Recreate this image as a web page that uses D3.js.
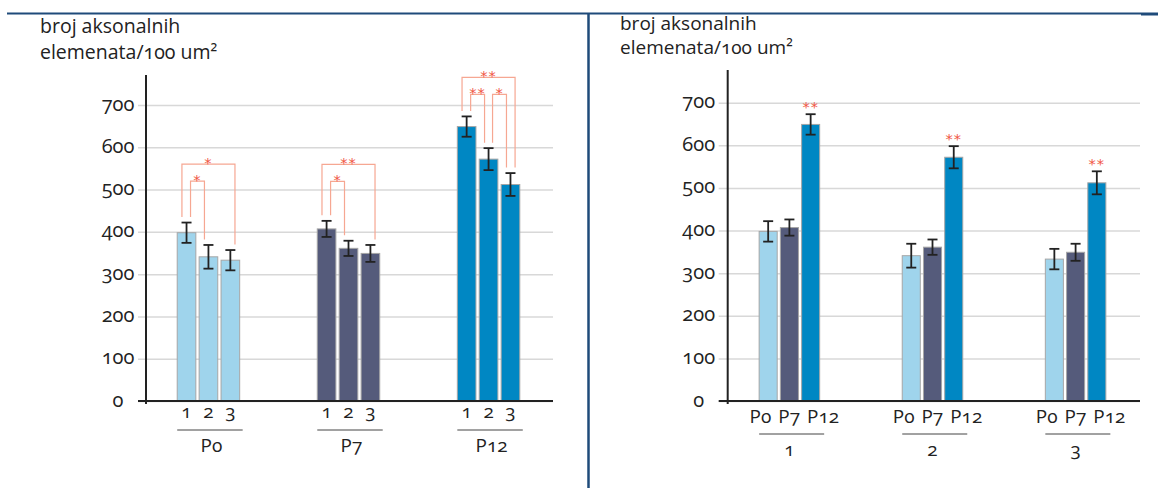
<!DOCTYPE html>
<html><head><meta charset="utf-8">
<script src="https://cdn.jsdelivr.net/npm/d3@7"></script>
<style>
body{margin:0;background:#fff;}
svg text{font-family:"Open Sans",sans-serif;font-variant-numeric:oldstyle-nums;font-feature-settings:"onum" 1;}
svg text.star{font-family:"DejaVu Sans",sans-serif;}
</style></head><body>
<svg id="c" width="1158" height="488"></svg>
<script>
// ---------- data ----------
const ages = ["P0", "P7", "P12"];
const samples = ["1", "2", "3"];
const yTickValues = [0, 100, 200, 300, 400, 500, 600, 700];
const meanP0 = [398, 341, 333];
const meanP7 = [407, 361, 349];
const meanP12 = [649, 572, 512];
const semP0 = [24, 28, 24];
const semP7 = [19, 18, 20];
const semP12 = [24, 26, 27];
const titleLines = ["broj aksonalnih", "elemenata/100 um²"];
// significance within each age group (left chart): sample index pairs
const sigAge = ["P0", "P0", "P7", "P7", "P12", "P12", "P12"];
const sigFrom = [0, 0, 0, 0, 0, 0, 1];
const sigTo = [2, 1, 2, 1, 2, 1, 2];
const sigLabel = ["*", "*", "**", "*", "**", "**", "*"];
const sigTier = [1, 0, 1, 0, 1, 0, 0];
// significance marks on the right chart (P12 bar of each sample)
const starSample = ["1", "2", "3"];
const starAge = ["P12", "P12", "P12"];
const starLabel = ["**", "**", "**"];

const meanBy = {P0: meanP0, P7: meanP7, P12: meanP12};
const semBy = {P0: semP0, P7: semP7, P12: semP12};
const rows = [];
ages.forEach(a => samples.forEach((s, j) => rows.push({age: a, sample: s, mean: meanBy[a][j], sem: semBy[a][j]})));

// ---------- style ----------
const colors = {P0: "#9fd4ec", P7: "#555b7b", P12: "#0087c3"};
const frame = "#1f4b7a";
const ink = "#222";
const starColor = "#f05644";
const bracketColor = "#f6a792";

const svg = d3.select("#c");

// frame lines
svg.append("line").attr("x1", 7).attr("x2", 1141).attr("y1", 13.5).attr("y2", 13.5).attr("stroke", frame).attr("stroke-width", 2);
svg.append("line").attr("x1", 1141).attr("x2", 1158).attr("y1", 14).attr("y2", 14).attr("stroke", frame).attr("stroke-width", 3);
svg.append("line").attr("x1", 588.5).attr("x2", 588.5).attr("y1", 13).attr("y2", 488).attr("stroke", frame).attr("stroke-width", 2.5);

function drawPanel(o) {
  const g = svg.append("g");
  const y = d3.scaleLinear().domain([0, 700]).range([o.zeroY, o.topY]);
  const x0 = d3.scaleBand().domain(o.outerDomain).range(o.xRange).paddingInner(o.padIn).paddingOuter(o.padOut);
  const x1 = d3.scaleBand().domain(o.innerDomain).range([0, x0.bandwidth()]).paddingInner(0.15);
  const bx = d => x0(d[o.outerKey]) + x1(d[o.innerKey]);
  const cx = d => bx(d) + x1.bandwidth() / 2;

  // title
  g.selectAll("text.title").data(titleLines).join("text").attr("class", "title")
    .attr("x", o.titleX).attr("y", (d, i) => o.titleY + i * o.titleGap)
    .attr("font-size", o.titleSize).attr("fill", ink).text(d => d);

  // axis with gridlines
  const ax = g.append("g").attr("transform", `translate(${o.axisX},0)`)
    .call(d3.axisLeft(y).tickValues(yTickValues).tickSize(-(o.gridX1 - o.axisX)).tickSizeOuter(0).tickFormat(d3.format("d")));
  ax.select(".domain").remove();
  ax.selectAll(".tick line").attr("x1", -o.tickExt).attr("stroke", "#d8d8d8").attr("stroke-width", 1.5);
  ax.selectAll(".tick text").attr("x", o.labelDx).attr("dy", null).attr("y", 5)
    .attr("text-anchor", "middle").attr("font-size", 20).attr("fill", ink).attr("font-family", null);

  // bars
  g.selectAll("rect.bar").data(rows).join("rect").attr("class", "bar")
    .attr("x", bx).attr("width", x1.bandwidth())
    .attr("y", d => y(d.mean)).attr("height", d => y(0) - y(d.mean))
    .attr("fill", d => colors[d.age]).attr("stroke", "#a6a6a6").attr("stroke-width", 1);

  // error bars
  const eb = g.selectAll("g.err").data(rows).join("g").attr("class", "err")
    .attr("stroke", ink).attr("stroke-width", 1.8);
  eb.append("line").attr("x1", cx).attr("x2", cx).attr("y1", d => y(d.mean + d.sem)).attr("y2", d => y(d.mean - d.sem));
  eb.append("line").attr("x1", d => cx(d) - 5).attr("x2", d => cx(d) + 5).attr("y1", d => y(d.mean + d.sem)).attr("y2", d => y(d.mean + d.sem));
  eb.append("line").attr("x1", d => cx(d) - 5).attr("x2", d => cx(d) + 5).attr("y1", d => y(d.mean - d.sem)).attr("y2", d => y(d.mean - d.sem));

  // zero line and vertical axis
  g.append("line").attr("x1", o.axisX - o.tickExt).attr("x2", o.gridX1).attr("y1", y(0)).attr("y2", y(0)).attr("stroke", ink).attr("stroke-width", 2);
  g.append("line").attr("x1", o.axisX).attr("x2", o.axisX).attr("y1", o.axisTop).attr("y2", y(0) + 3).attr("stroke", ink).attr("stroke-width", 2);

  // category labels
  if (o.innerLabelMode === "each") {
    g.selectAll("text.il").data(rows).join("text").attr("class", "il")
      .attr("x", cx).attr("y", o.innerLabelY).attr("text-anchor", "middle")
      .attr("font-size", o.innerLabelSize).attr("fill", ink).text(d => d[o.innerKey]);
  } else {
    g.selectAll("text.il").data(o.outerDomain).join("text").attr("class", "il")
      .attr("x", d => x0(d) + x0.bandwidth() / 2 + o.innerLabelShift).attr("y", o.innerLabelY)
      .attr("text-anchor", "middle").attr("font-size", o.innerLabelSize).attr("fill", ink)
      .attr("word-spacing", o.wordSpacing)
      .text(o.innerDomain.join(" "));
  }
  g.selectAll("line.gl").data(o.outerDomain).join("line").attr("class", "gl")
    .attr("x1", d => x0(d)).attr("x2", d => x0(d) + x0.bandwidth() + o.lineExt)
    .attr("y1", o.groupLineY).attr("y2", o.groupLineY).attr("stroke", "#444").attr("stroke-width", 1);
  g.selectAll("text.ol").data(o.outerDomain).join("text").attr("class", "ol")
    .attr("x", d => x0(d) + x0.bandwidth() / 2 + o.outerLabelShift).attr("y", o.outerLabelY)
    .attr("text-anchor", "middle").attr("font-size", o.outerLabelSize).attr("fill", ink).text(d => d);

  return {g, x0, x1, y, cx};
}

// ---------- left panel: grouped by age ----------
const L = drawPanel({
  outerDomain: ages, innerDomain: samples, outerKey: "age", innerKey: "sample",
  xRange: [145, 552], padIn: 0.554, padOut: 0.23,
  zeroY: 401, topY: 105, axisX: 146, axisTop: 75, gridX1: 553, tickExt: 8, labelDx: -28,
  titleX: 40, titleY: 33, titleGap: 26, titleSize: 19.5,
  innerLabelMode: "each", innerLabelY: 418, innerLabelSize: 19,
  groupLineY: 430, lineExt: 3, outerLabelY: 452, outerLabelSize: 19, outerLabelShift: 3
});

// brackets
const capY = (age, idx) => {
  const r = rows.find(d => d.age === age && d.sample === samples[idx]);
  return L.y(r.mean + r.sem);
};
const barC = (age, idx) => L.cx(rows.find(d => d.age === age && d.sample === samples[idx]));
const innerGap = {P0: 41.5, P7: 39.5, P12: 22};
sigAge.forEach((age, k) => {
  const groupTop = d3.min(samples.map((s, i) => capY(age, i)));
  const top = groupTop - innerGap[age] - sigTier[k] * 17;
  const off = sigTier[k] === 1 ? -4.6 : 4;
  const xa = barC(age, sigFrom[k]) + off;
  const xb = barC(age, sigTo[k]) - off;
  const ya = capY(age, sigFrom[k]) - 5.5;
  const yb = capY(age, sigTo[k]) - 5.5;
  L.g.append("path").attr("d", `M${xa},${ya}V${top}H${xb}V${yb}`)
    .attr("fill", "none").attr("stroke", bracketColor).attr("stroke-width", 1.2);
  L.g.append("text").attr("class", "star").attr("x", (xa + xb) / 2).attr("y", top + 3.5).attr("text-anchor", "middle")
    .attr("font-size", 14.5).attr("letter-spacing", 1).attr("fill", starColor).text(sigLabel[k]);
});

// ---------- right panel: grouped by sample ----------
const R = drawPanel({
  outerDomain: samples, innerDomain: ages, outerKey: "sample", innerKey: "age",
  xRange: [726, 1139], padIn: 0.577, padOut: 0.2316,
  zeroY: 401, topY: 102.7, axisX: 727.7, axisTop: 70, gridX1: 1140, tickExt: 9, labelDx: -29,
  titleX: 620, titleY: 29.5, titleGap: 24, titleSize: 19,
  innerLabelMode: "joined", innerLabelY: 423, innerLabelSize: 19, innerLabelShift: 5, wordSpacing: 2,
  groupLineY: 434, lineExt: 4.5, outerLabelY: 456, outerLabelSize: 19, outerLabelShift: 0
});
starSample.forEach((s, k) => {
  const r = rows.find(d => d.sample === s && d.age === starAge[k]);
  R.g.append("text").attr("class", "star").attr("x", R.cx(r)).attr("y", R.y(r.mean + r.sem) - 2.5).attr("text-anchor", "middle")
    .attr("font-size", 14.5).attr("letter-spacing", 1).attr("fill", starColor).text(starLabel[k]);
});
</script>
</body></html>
